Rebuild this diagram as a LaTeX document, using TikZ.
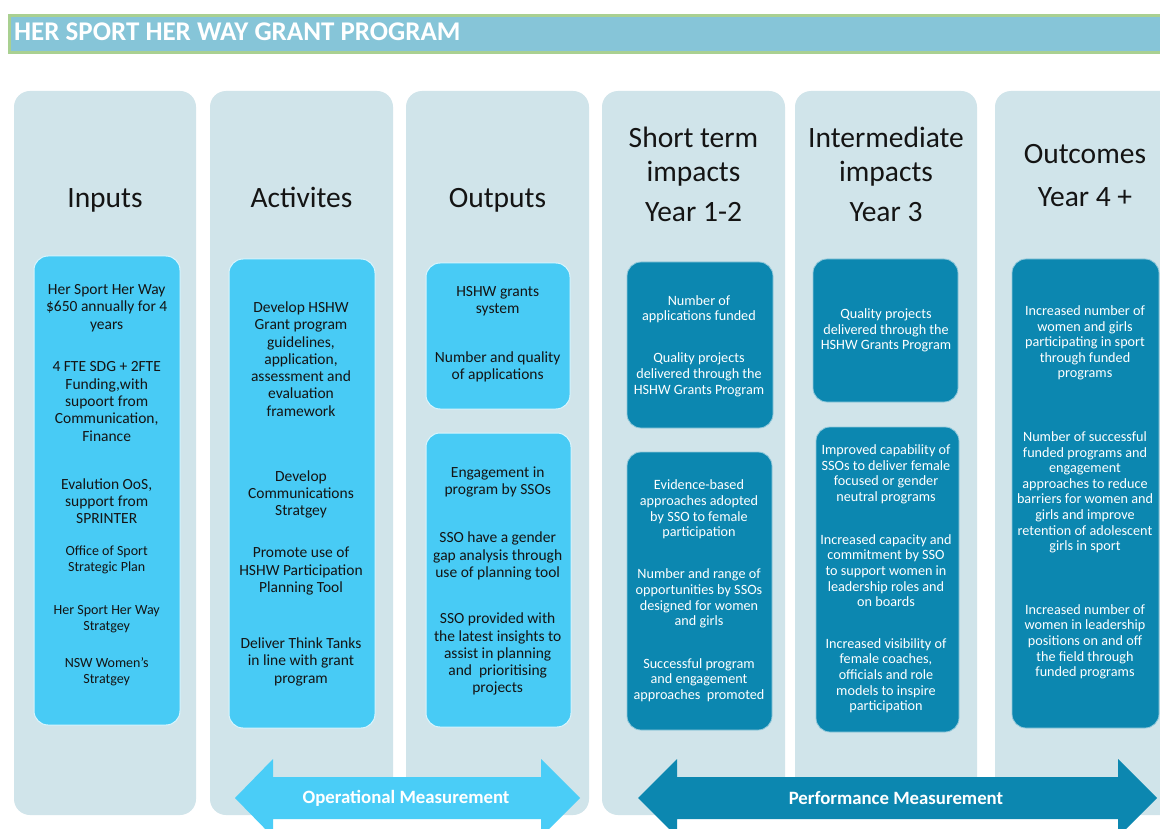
\documentclass[tikz,border=0pt]{standalone}
\usepackage{fontspec}
\setmainfont{Carlito}
\definecolor{colbg}{RGB}{208,228,234}
\definecolor{lbox}{RGB}{72,203,245}
\definecolor{dbox}{RGB}{12,135,176}
\definecolor{tfill}{RGB}{134,197,216}
\definecolor{tborder}{RGB}{169,208,145}
\definecolor{larrow}{RGB}{74,205,247}
\definecolor{darrow}{RGB}{12,135,176}
\definecolor{txt}{RGB}{20,20,20}
\tikzset{
  colbox/.style={fill=colbg, rounded corners=16pt, inner sep=0pt},
  lightbox/.style={fill=lbox, draw=white!80!lbox, line width=1pt, rounded corners=14pt, inner sep=0pt},
  darkbox/.style={fill=dbox, draw=white!55!dbox, line width=0.8pt, rounded corners=14pt, inner sep=0pt},
  hdr/.style={font=\fontsize{29.5}{34}\selectfont, align=center, inner sep=0pt, text=txt},
  ltxt/.style={font=\fontsize{15.5}{17.3}\selectfont, align=center, inner sep=0pt, text=txt},
  lsmall/.style={font=\fontsize{14}{16}\selectfont, align=center, inner sep=0pt, text=txt},
  dtxt/.style={font=\fontsize{14.2}{15.6}\selectfont, align=center, inner sep=0pt, text=white},
  arrtxt/.style={font=\bfseries\fontsize{18.8}{22}\selectfont, text=white, inner sep=0pt},
}
\begin{document}
\begin{tikzpicture}[x=1pt,y=-1pt]
\useasboundingbox (0,0) rectangle (1160,829);
\clip (0,0) rectangle (1160,829);
\fill[white] (0,0) rectangle (1160,829);

% title bar
\draw[fill=tfill, draw=tborder, line width=3pt] (9.5,15.5) rectangle (1175,52.5);
\node[anchor=base west, inner sep=0pt, text=white, font=\bfseries\fontsize{27}{30}\selectfont] (title) at (14,41) {HER SPORT HER WAY GRANT PROGRAM};

% columns
\node[colbox, minimum width=182pt, minimum height=724pt] (cin) at (105,453) {};
\node[colbox, minimum width=183pt, minimum height=724pt] (cact) at (301.5,453) {};
\node[colbox, minimum width=183pt, minimum height=724pt] (cout) at (497.5,453) {};
\node[colbox, minimum width=183pt, minimum height=724pt] (cst) at (693.5,453) {};
\node[colbox, minimum width=182pt, minimum height=724pt] (cint) at (886,453) {};
\node[colbox, minimum width=183pt, minimum height=724pt] (coc) at (1086.5,453) {};

% headers
\node[hdr, anchor=base] (hin) at (105,207.5) {Inputs};
\node[hdr, anchor=base] (hact) at (301.5,207.5) {Activites};
\node[hdr, anchor=base] (hout) at (497.5,207.5) {Outputs};
\node[hdr] (hst) at (693.5,156.5) {Short term\\impacts};
\node[hdr, anchor=base] (hsty) at (693.5,222) {Year 1-2};
\node[hdr] (hint) at (886,156.5) {Intermediate\\impacts};
\node[hdr, anchor=base] (hinty) at (886,222) {Year 3};
\node[hdr, anchor=base] (hoc) at (1085,163.5) {Outcomes};
\node[hdr, anchor=base] (hocy) at (1085,206.5) {Year 4 +};

% boxes
\node[lightbox, minimum width=146pt, minimum height=469pt] (bin) at (107,490.5) {};
\node[lightbox, minimum width=146pt, minimum height=469pt] (bact) at (302,493.5) {};
\node[lightbox, minimum width=144pt, minimum height=146pt] (bout1) at (498,336) {};
\node[lightbox, minimum width=145pt, minimum height=294pt] (bout2) at (498.5,580) {};
\node[darkbox, minimum width=146pt, minimum height=166pt] (bst1) at (700,345) {};
\node[darkbox, minimum width=145pt, minimum height=278pt] (bst2) at (699.5,591) {};
\node[darkbox, minimum width=145pt, minimum height=143pt] (bint1) at (885.5,330.5) {};
\node[darkbox, minimum width=143pt, minimum height=305pt] (bint2) at (887.5,579.5) {};
\node[darkbox, minimum width=147pt, minimum height=469pt] (boc) at (1085.5,493.5) {};

% inputs text
\node[ltxt] (in1) at (106.7,308) {Her Sport Her Way\\\$650 annually for 4\\years};
\node[ltxt] (in2) at (106.7,401.5) {4 FTE SDG + 2FTE\\Funding,with\\supoort from\\Communication,\\Finance};
\node[ltxt] (in3) at (106.7,501) {Evalution OoS,\\support from\\SPRINTER};
\node[lsmall] (in4) at (106.7,560) {Office of Sport\\Strategic Plan};
\node[lsmall] (in5) at (106.7,619.5) {Her Sport Her Way\\Stratgey};
\node[lsmall] (in6) at (106.7,672) {NSW Women's\\Stratgey};

% activities text
\node[ltxt] (ac1) at (301,359) {Develop HSHW\\Grant program\\guidelines,\\application,\\assessment and\\evaluation\\framework};
\node[ltxt] (ac2) at (301,494.3) {Develop\\Communications\\Stratgey};
\node[ltxt] (ac3) at (301,571.3) {Promote use of\\HSHW Participation\\Planning Tool};
\node[ltxt] (ac4) at (301,661.7) {Deliver Think Tanks\\in line with grant\\program};

% outputs text
\node[ltxt] (ou1) at (497.7,301.5) {HSHW grants\\system};
\node[ltxt] (ou2) at (497.7,367) {Number and quality\\of applications};
\node[ltxt] (ou3) at (497.7,482) {Engagement in\\program by SSOs};
\node[ltxt] (ou4) at (497.7,556) {SSO have a gender\\gap analysis through\\use of planning tool};
\node[ltxt] (ou5) at (497.7,654.3) {SSO provided with\\the latest insights to\\assist in planning\\and\ \ prioritising\\projects};

% short term text
\node[dtxt] (st1) at (699,309.3) {Number of\\applications funded};
\node[dtxt] (st2) at (699,374.8) {Quality projects\\delivered through the\\HSHW Grants Program};
\node[dtxt] (st3) at (699,509.5) {Evidence-based\\approaches adopted\\by SSO to female\\participation};
\node[dtxt] (st4) at (699,598.5) {Number and range of\\opportunities by SSOs\\designed for women\\and girls};
\node[dtxt] (st5) at (699,680) {Successful program\\and engagement\\approaches\ \ promoted};

% intermediate text
\node[dtxt] (it1) at (886,330.5) {Quality projects\\delivered through the\\HSHW Grants Program};
\node[dtxt] (it2) at (886,474.3) {Improved capability of\\SSOs to deliver female\\focused or gender\\neutral programs};
\node[dtxt] (it3) at (886,570.7) {Increased capacity and\\commitment by SSO\\to support women in\\leadership roles and\\on boards};
\node[dtxt] (it4) at (886,675.7) {Increased visibility of\\female coaches,\\officials and role\\models to inspire\\participation};

% outcomes text
\node[dtxt] (oc1) at (1085,343) {Increased number of\\women and girls\\participating in sport\\through funded\\programs};
\node[dtxt] (oc2) at (1085,492.3) {Number of successful\\funded programs and\\engagement\\approaches to reduce\\barriers for women and\\girls and improve\\retention of adolescent\\girls in sport};
\node[dtxt] (oc3) at (1085,641.7) {Increased number of\\women in leadership\\positions on and off\\the field through\\funded programs};

% measurement arrows
\fill[larrow] (235,798) -- (273,759) -- (273,777) -- (541,777) -- (541,759) -- (580,798)
  -- (541,837) -- (541,819) -- (273,819) -- (273,837) -- cycle;
\node[arrtxt] (opm) at (406,798) {Operational Measurement};
\fill[darrow] (638,798) -- (677,759) -- (677,777) -- (1118,777) -- (1118,759) -- (1157,798)
  -- (1118,837) -- (1118,819) -- (677,819) -- (677,837) -- cycle;
\node[arrtxt] (pfm) at (896,798) {Performance Measurement};
\end{tikzpicture}
\end{document}
